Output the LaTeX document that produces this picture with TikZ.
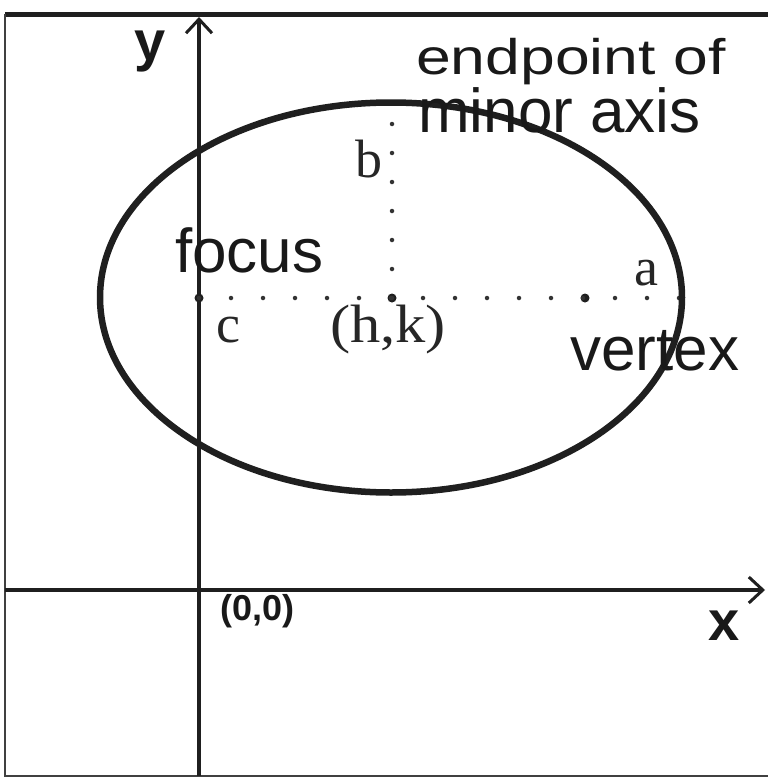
\documentclass[tikz,border=0pt]{standalone}
\usepackage{fontspec}
\setmainfont{Liberation Serif}
\setsansfont{Liberation Sans}
\usetikzlibrary{arrows.meta}
\begin{document}
\begin{tikzpicture}[x=1pt,y=-1pt,
  sanslbl/.style={font=\sffamily\fontsize{62}{62}\selectfont, inner sep=0pt, anchor=base west, text=black!90},
  seriflbl/.style={font=\rmfamily\fontsize{54}{54}\selectfont, inner sep=0pt, anchor=base west, text=black!85},
  smalllbl/.style={font=\sffamily\bfseries\fontsize{36}{36}\selectfont, inner sep=0pt, anchor=base west, text=black!90},
  axisline/.style={line width=3.2pt, draw=black!88},
  axistip/.style={-{Straight Barb[length=14pt,width=26pt,line width=3pt]}},
  dotline/.style={line width=4.5pt, line cap=round, dash pattern=on 0pt off 32pt, draw=black!80},
  bigdot/.style={circle, fill=black!88, inner sep=0pt, minimum size=9pt}
]
\useasboundingbox (0,0) rectangle (768,779);
\fill[white] (0,0) rectangle (768,779);
% frame
\draw[line width=5pt, black!88] (5,14) -- (768,14);
\draw[line width=2pt, black!75] (5,14) -- (5,776) -- (768,776);
% axes
\coordinate (yb) at (199,776);
\coordinate (yt) at (199,17);
\coordinate (xl) at (5,590);
\coordinate (xr) at (765,590);
\draw[axisline, axistip] (yb) -- (yt);
\draw[axisline, axistip] (xl) -- (xr);
% points
\node[bigdot] (f1) at (199,298) {};
\node[bigdot] (ctr) at (392,298) {};
\node[bigdot] (f2) at (585,298) {};
\coordinate (vx) at (682,298);
\coordinate (mn) at (392,103);
% dotted lines
\draw[dotline] (f1.center) -- (vx);
\draw[dotline, dash pattern=on 0pt off 29pt] (ctr.center) -- (mn);
% ellipse
\draw[line width=6.5pt, black!88] (391,297.5) ellipse [x radius=291, y radius=195];
% labels
\node[sanslbl, font=\sffamily\bfseries\fontsize{56}{56}\selectfont] (ylab) at (134,60) {y};
\node[sanslbl, font=\sffamily\fontsize{50}{50}\selectfont] (ep1) at (416,74) {\scalebox{1.25}[1]{endpoint of}};
\node[sanslbl] (ep2) at (418,132) {minor axis};
\node[seriflbl] (blab) at (355,177) {b};
\node[sanslbl] (foc) at (175,272) {focus};
\node[seriflbl] (alab) at (634,285) {a};
\node[seriflbl] (clab) at (216,342) {c};
\node[seriflbl] (hk) at (330,342) {\scalebox{1.12}[1]{(h,k)}};
\node[sanslbl] (vtx) at (570,370) {vertex};
\node[smalllbl] (orig) at (220,620) {(0,0)};
\node[sanslbl, font=\sffamily\bfseries\fontsize{56}{56}\selectfont] (xlab) at (708,640) {x};
\end{tikzpicture}
\end{document}
